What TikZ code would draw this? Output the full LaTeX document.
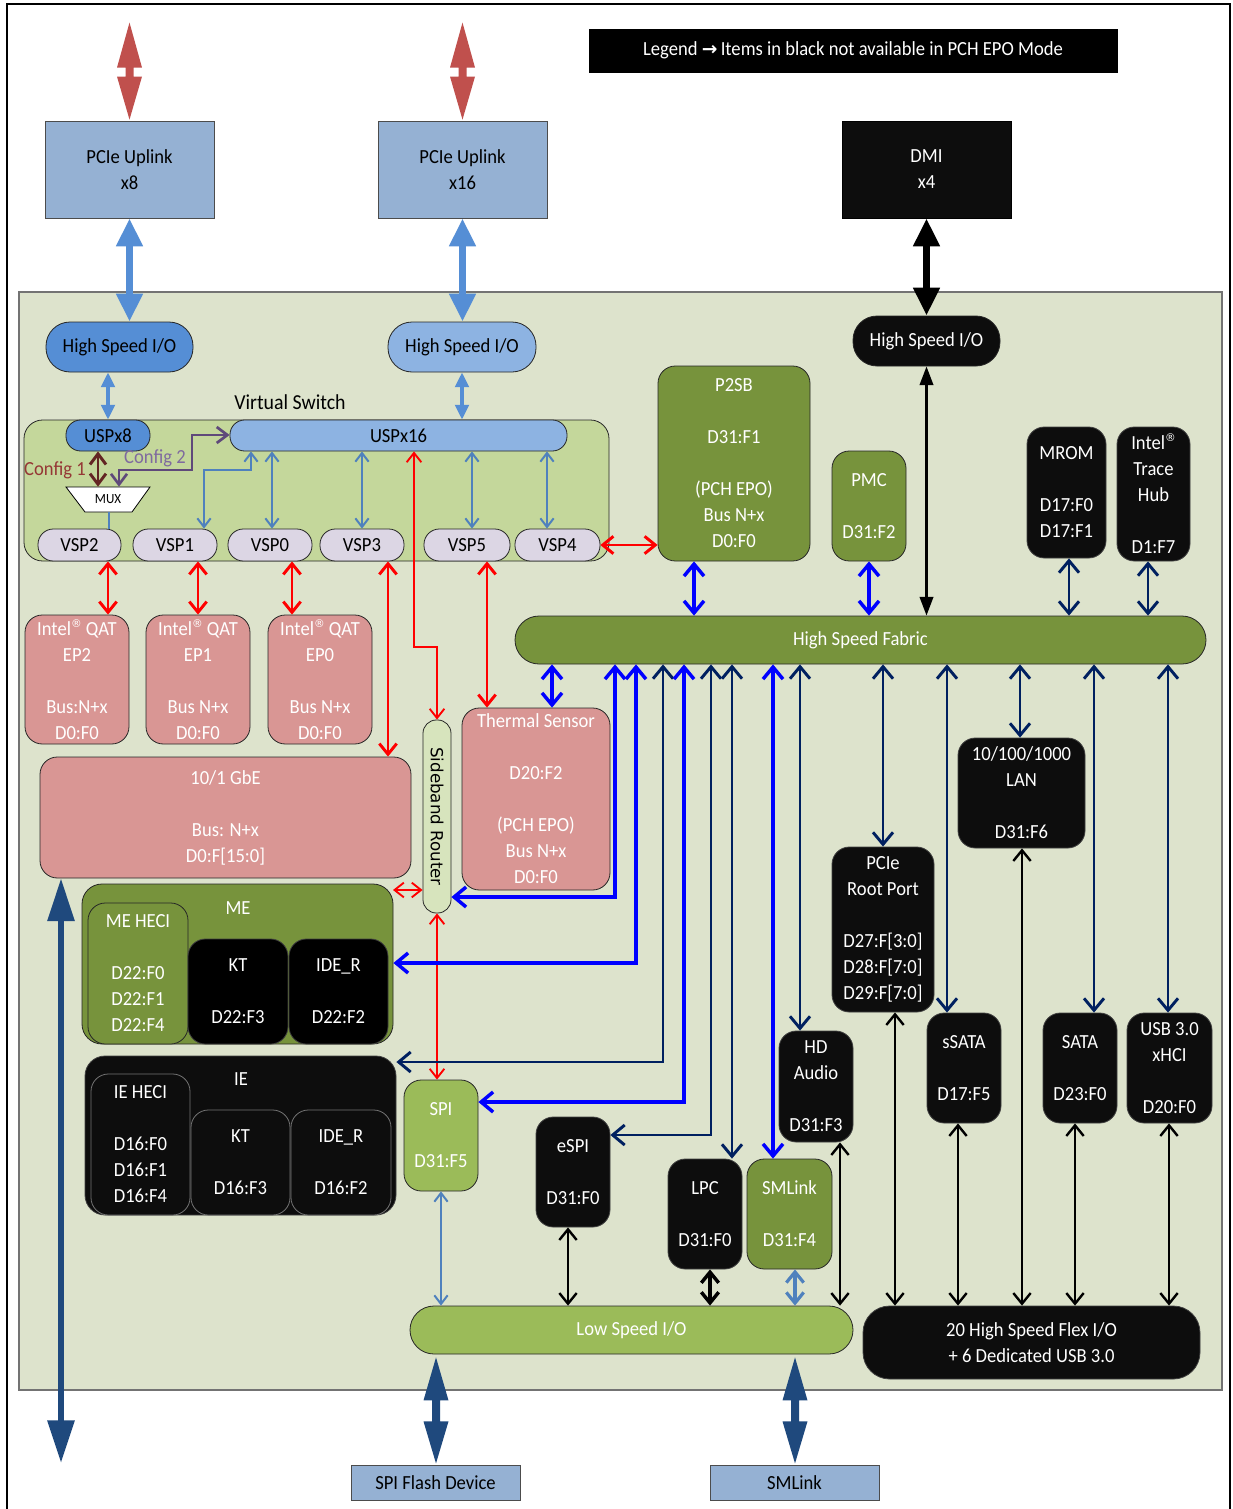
\documentclass[tikz,border=0pt]{standalone}
\usepackage{fontspec}
\setmainfont{Carlito}[FakeStretch=0.93]
\newfontfamily\djv{DejaVu Sans}
\usetikzlibrary{arrows.meta}
\definecolor{panelbg}{HTML}{DDE3CC}
\definecolor{vsg}{HTML}{C4D79B}
\definecolor{uplf}{HTML}{95B1D3}
\definecolor{hsA}{HTML}{558ED5}
\definecolor{hsB}{HTML}{8DB3E2}
\definecolor{vspf}{HTML}{DCD6E4}
\definecolor{pinkf}{HTML}{D99694}
\definecolor{olivef}{HTML}{77933C}
\definecolor{lgreenf}{HTML}{9BBB59}
\definecolor{srf}{HTML}{D7E4BD}
\definecolor{blkf}{HTML}{0D0D0D}
\definecolor{navyC}{HTML}{002060}
\definecolor{blueC}{HTML}{0000FF}
\definecolor{stlC}{HTML}{4F81BD}
\definecolor{redC}{HTML}{FF0000}
\definecolor{redbig}{HTML}{C0504D}
\definecolor{dbC}{HTML}{1F497D}
\definecolor{brnC}{HTML}{632523}
\definecolor{brnT}{HTML}{953735}
\definecolor{purC}{HTML}{5F497A}
\definecolor{purT}{HTML}{7F6A9F}
\newcommand\fs{\fontsize{15}{19.5}\selectfont}
\newcommand\reg{\raisebox{0.8ex}{\djv\fontsize{8}{8}\selectfont ®}}
\newcommand\bx[7][]{\node[#1,minimum width={(#4-#2)*0.75pt},minimum height={(#5-#3)*0.75pt}] (#6) at ({(#2+#4)/2},{(#3+#5)/2}) {#7};}
\begin{document}
\begin{tikzpicture}[x=0.75pt,y=-0.75pt,
 bx/.style={draw=black!85,line width=0.6pt,inner sep=0pt,align=center,font=\fs,text=white},
 rb/.style={bx,rounded corners=13pt},
 blk/.style={rb,fill=blkf,draw=black!75},
 pnk/.style={rb,fill=pinkf},
 olv/.style={rb,fill=olivef},
 lgr/.style={rb,fill=lgreenf},
 sq/.style={bx,fill=uplf,text=black,draw=black!70},
 vspst/.style={bx,fill=vspf,text=black,rounded corners=11.5pt},
 cblue/.style={draw=blueC,line width=2.6pt,>={Straight Barb[width=15pt,length=9pt]},<->},
 cnavy/.style={draw=navyC,line width=2.2pt,>={Straight Barb[width=15pt,length=9pt]},<->},
 cred/.style={draw=redC,line width=2.2pt,>={Straight Barb[width=13pt,length=8pt]},<->},
 credt/.style={draw=redC,line width=1.4pt,>={Straight Barb[width=11pt,length=7pt]},<->},
 cstl/.style={draw=stlC,line width=1.5pt,>={Straight Barb[width=10pt,length=6.5pt]},<->},
 cstlk/.style={draw=stlC,line width=2.4pt,>={Straight Barb[width=13pt,length=8pt]},<->},
 cblk/.style={draw=black,line width=1.8pt,>={Straight Barb[width=13pt,length=8pt]},<->},
 cblkk/.style={draw=black,line width=2.6pt,>={Straight Barb[width=13pt,length=8pt]},<->},
 cbrn/.style={draw=brnC,line width=2.2pt,>={Straight Barb[width=12pt,length=8pt]},<->},
 cpur/.style={draw=purC,line width=2pt,>={Straight Barb[width=12pt,length=8pt]},<->},
 fatblue/.style={draw=hsA,line width=5pt,>={Triangle[width=19pt,length=21pt]},<->},
 fatblk/.style={draw=black,line width=5pt,>={Triangle[width=19pt,length=21pt]},<->},
 hsusp/.style={draw=hsA,line width=3pt,>={Triangle[width=10pt,length=11pt]},<->},
 hsfab/.style={draw=black,line width=2pt,>={Triangle[width=10pt,length=14pt]},<->},
 bigdb/.style={draw=dbC,line width=4.5pt,>={Triangle[width=19.5pt,length=32pt]},<->},
]
\useasboundingbox (0,0) rectangle (1232,1509);
\fill[white] (0,0) rectangle (1232,1509);
\draw[line width=2pt] (7,1515) -- (7,4) -- (1230,4) -- (1230,1515);
\draw[draw=black!55,fill=panelbg,line width=1pt] (19,292) rectangle (1222,1390);

% top boxes
\bx[sq]{45}{121}{214}{218}{up8}{PCIe Uplink\\x8}
\bx[sq]{378}{121}{547}{218}{up16}{PCIe Uplink\\x16}
\bx[bx,fill=blkf,draw=black]{842}{121}{1011}{218}{dmi}{DMI\\x4}
\bx[bx,fill=black,draw=black]{589}{29}{1117}{72}{legend}{Legend {\djv\bfseries\fontsize{14}{16}\selectfont →}\,Items in black not available in PCH EPO Mode}

% red external arrows
\fill[redbig] (up8.north) +(0,-1) -- +(12.5,-44) -- +(4,-44) -- +(4,-53) -- +(12.5,-53) -- +(0,-98) -- +(-12.5,-53) -- +(-4,-53) -- +(-4,-44) -- +(-12.5,-44) -- cycle;
\fill[redbig] (up16.north) +(0,-1) -- +(12.5,-44) -- +(4,-44) -- +(4,-53) -- +(12.5,-53) -- +(0,-98) -- +(-12.5,-53) -- +(-4,-53) -- +(-4,-44) -- +(-12.5,-44) -- cycle;

% high speed I/O
\bx[bx,fill=hsA,text=black,rounded corners=18pt]{46}{322}{193}{372}{hs1}{High Speed I/O}
\bx[bx,fill=hsB,text=black,rounded corners=18pt]{388}{322}{536}{372}{hs2}{High Speed I/O}
\bx[bx,fill=blkf,rounded corners=18pt]{853}{316}{1000}{366}{hs3}{High Speed I/O}

% virtual switch
\node[font=\fontsize{16}{19}\selectfont] (vslbl) at (290,402) {Virtual Switch};
\bx[bx,fill=vsg,rounded corners=14pt]{24}{420}{609}{561}{vs}{}
\bx[bx,fill=hsA,text=black,rounded corners=11pt]{66}{420}{150}{451}{uspa}{USPx8}
\bx[bx,fill=hsB,text=black,rounded corners=11pt]{230}{420}{567}{451}{uspb}{USPx16}
\bx[vspst]{38}{529}{121}{561}{vsp2}{VSP2}
\bx[vspst]{133}{529}{217}{561}{vsp1}{VSP1}
\bx[vspst]{228}{529}{312}{561}{vsp0}{VSP0}
\bx[vspst]{320}{529}{404}{561}{vsp3}{VSP3}
\bx[vspst]{424}{529}{510}{561}{vsp5}{VSP5}
\bx[vspst]{515}{529}{600}{561}{vsp4}{VSP4}
\filldraw[fill=white,draw=black,line width=0.6pt] (66,487) -- (150,487) -- (132,512) -- (85,512) -- cycle;
\node[inner sep=0pt,minimum width=63pt,minimum height=18.75pt,font=\fontsize{10.5}{12}\selectfont] (mux) at (108,499.5) {MUX};

% right top blocks
\bx[olv]{658}{366}{810}{561}{p2sb}{P2SB\\[19.5pt]D31:F1\\[19.5pt](PCH EPO)\\Bus N+x\\D0:F0}
\bx[olv]{832}{451}{906}{561}{pmc}{PMC\\[19.5pt]D31:F2}
\bx[blk]{1027}{427}{1106}{558}{mrom}{MROM\\[19.5pt]D17:F0\\D17:F1}
\bx[blk]{1117}{427}{1190}{561}{ith}{Intel\reg\\Trace\\Hub\\[19.5pt]D1:F7}
\bx[bx,fill=olivef,rounded corners=18pt]{515}{616}{1206}{664}{fab}{High Speed Fabric}

% pink blocks
\bx[pnk]{25}{615}{129}{744}{qat2}{Intel\reg{} QAT\\EP2\\[19.5pt]Bus:N+x\\D0:F0}
\bx[pnk]{146}{615}{250}{744}{qat1}{Intel\reg{} QAT\\EP1\\[19.5pt]Bus N+x\\D0:F0}
\bx[pnk]{268}{615}{372}{744}{qat0}{Intel\reg{} QAT\\EP0\\[19.5pt]Bus N+x\\D0:F0}
\bx[pnk]{40}{757}{411}{878}{gbe}{10/1 GbE\\[19.5pt]Bus: N+x\\D0:F[15:0]}
\bx[pnk]{462}{708}{610}{890}{ts}{Thermal Sensor\\[19.5pt]D20:F2\\[19.5pt](PCH EPO)\\Bus N+x\\D0:F0}
\bx[bx,fill=srf,rounded corners=10pt,label={[rotate=-90,font=\djv\fontsize{12.5}{14}\selectfont,text=black]center:Sideband Router}]{423}{720}{451}{913}{sr}{}

% ME / IE
\bx[olv,rounded corners=15pt]{82}{884}{393}{1044}{me}{}
\bx[olv]{88}{903}{188}{1044}{mehe}{ME HECI\\[19.5pt]D22:F0\\D22:F1\\D22:F4}
\bx[blk,fill=black]{188}{939}{288}{1044}{mekt}{KT\\[19.5pt]D22:F3}
\bx[blk,fill=black]{289}{939}{388}{1044}{meid}{IDE\_R\\[19.5pt]D22:F2}
\node[font=\fs,text=white] (melbl) at (238,908) {ME};
\bx[blk,rounded corners=15pt]{85}{1056}{396}{1215}{ie}{}
\bx[blk,draw=black!55]{91}{1074}{190}{1215}{iehe}{IE HECI\\[19.5pt]D16:F0\\D16:F1\\D16:F4}
\bx[blk,draw=black!55]{191}{1110}{290}{1215}{iekt}{KT\\[19.5pt]D16:F3}
\bx[blk,draw=black!55]{291}{1110}{391}{1215}{ieid}{IDE\_R\\[19.5pt]D16:F2}
\node[font=\fs,text=white] (ielbl) at (241,1079) {IE};

% lower blocks
\bx[lgr]{404}{1080}{478}{1191}{spi}{SPI\\[19.5pt]D31:F5}
\bx[blk]{536}{1117}{610}{1227}{espi}{eSPI\\[19.5pt]D31:F0}
\bx[blk]{668}{1159}{742}{1269}{lpc}{LPC\\[19.5pt]D31:F0}
\bx[olv]{747}{1159}{832}{1269}{sml}{SMLink\\[19.5pt]D31:F4}
\bx[blk]{779}{1031}{853}{1142}{hda}{HD\\Audio\\[19.5pt]D31:F3}
\bx[blk]{832}{847}{934}{1012}{rp}{PCIe\\Root Port\\[19.5pt]D27:F[3:0]\\D28:F[7:0]\\D29:F[7:0]}
\bx[blk]{958}{738}{1085}{848}{lan}{10/100/1000\\LAN\\[19.5pt]D31:F6}
\bx[blk]{927}{1013}{1001}{1123}{ssata}{sSATA\\[19.5pt]D17:F5}
\bx[blk]{1043}{1013}{1117}{1123}{sata}{SATA\\[19.5pt]D23:F0}
\bx[blk]{1127}{1013}{1212}{1123}{usb}{USB 3.0\\xHCI\\[19.5pt]D20:F0}
\bx[bx,fill=lgreenf,rounded corners=18pt]{410}{1306}{853}{1354}{ls}{Low Speed I/O}
\bx[blk,rounded corners=20pt]{863}{1306}{1200}{1379}{flex}{20 High Speed Flex I/O\\+ 6 Dedicated USB 3.0}
\bx[sq]{351}{1465}{520}{1500}{spif}{SPI Flash Device}
\bx[sq]{710}{1465}{879}{1500}{smb}{SMLink}

% uplink connectors
\draw[fatblue] (129.5,0 |- up8.south) -- (129.5,0 |- hs1.north);
\draw[fatblue] (up16.south) -- (up16.south |- hs2.north);
\draw[fatblk] (dmi.south) -- (dmi.south |- hs3.north);
\draw[hsusp] (108,0 |- hs1.south) -- (uspa.north);
\draw[hsusp] (462,0 |- hs2.south) -- (462,0 |- uspb.north);

% virtual switch internals
\draw[cbrn] (98,0 |- uspa.south) -- (98,0 |- mux.north);
\draw[cpur] (119,0 |- mux.north) -- (119,470) -- (192,470) -- (192,435) -- (uspb.west |- 0,435);
\draw[draw=stlC,line width=1.5pt] (109,0 |- mux.south) -- (109,0 |- vsp2.north);
\draw[cstl] (204,0 |- vsp1.north) -- (204,470) -- (251,470) -- (251,0 |- uspb.south);
\draw[cstl] (272,0 |- vsp0.north) -- (272,0 |- uspb.south);
\draw[cstl] (362,0 |- vsp3.north) -- (362,0 |- uspb.south);
\draw[cstl] (472,0 |- vsp5.north) -- (472,0 |- uspb.south);
\draw[cstl] (547,0 |- vsp4.north) -- (547,0 |- uspb.south);
\node[text=brnT,font=\fs] (c1) at (55,470) {Config 1};
\node[text=purT,font=\fs] (c2) at (155,458) {Config 2};

% red connectors
\draw[cred] (108,0 |- vsp2.south) -- (108,0 |- qat2.north);
\draw[cred] (198,0 |- vsp1.south) -- (198,0 |- qat1.north);
\draw[cred] (292,0 |- vsp0.south) -- (292,0 |- qat0.north);
\draw[cred] (388,0 |- vsp3.south) -- (388,0 |- gbe.north);
\draw[cred] (487,0 |- vsp5.south) -- (487,0 |- ts.north);
\draw[cred] (vsp4.east) -- (vsp4.east -| p2sb.west);
\draw[credt] (414,0 |- uspb.south) -- (414,647) -- (sr.north |- 0,647) -- (sr.north);
\coordinate (gl) at (393,890);
\draw[credt] (gl) -- (gl -| sr.west);
\draw[credt] (sr.south) -- (sr.south |- spi.north);

% fabric top
\draw[cblue] (694,0 |- p2sb.south) -- (694,0 |- fab.north);
\draw[cblue] (pmc.south) -- (pmc.south |- fab.north);
\draw[hsfab] (hs3.south) -- (hs3.south |- fab.north);
\draw[cnavy] (1069,0 |- mrom.south) -- (1069,0 |- fab.north);
\draw[cnavy] (1148,0 |- ith.south) -- (1148,0 |- fab.north);

% fabric bottom
\draw[cblue] (552,0 |- fab.south) -- (552,0 |- ts.north);
\draw[cblue] (615,0 |- fab.south) -- (615,897) -- (sr.east |- 0,897);
\draw[cblue] (636,0 |- fab.south) -- (636,963) -- (me.east |- 0,963);
\draw[cnavy] (663,0 |- fab.south) -- (663,1062) -- (ie.east |- 0,1062);
\draw[cblue] (684,0 |- fab.south) -- (684,1102) -- (spi.east |- 0,1102);
\draw[cnavy] (711,0 |- fab.south) -- (711,1135) -- (espi.east |- 0,1135);
\draw[cnavy] (732,0 |- fab.south) -- (732,0 |- lpc.north);
\draw[cblue] (773,0 |- fab.south) -- (773,0 |- sml.north);
\draw[cnavy] (800,0 |- fab.south) -- (800,0 |- hda.north);
\draw[cnavy] (883,0 |- fab.south) -- (883,0 |- rp.north);
\draw[cnavy] (947,0 |- fab.south) -- (947,0 |- ssata.north);
\draw[cnavy] (1020,0 |- fab.south) -- (1020,0 |- lan.north);
\draw[cnavy] (1094,0 |- fab.south) -- (1094,0 |- sata.north);
\draw[cnavy] (1168,0 |- fab.south) -- (1168,0 |- usb.north);

% to flex
\draw[cblk] (895,0 |- rp.south) -- (895,0 |- flex.north);
\draw[cblk] (958,0 |- ssata.south) -- (958,0 |- flex.north);
\draw[cblk] (1022,0 |- lan.south) -- (1022,0 |- flex.north);
\draw[cblk] (1075,0 |- sata.south) -- (1075,0 |- flex.north);
\draw[cblk] (1169,0 |- usb.south) -- (1169,0 |- flex.north);
\draw[cblk] (840,0 |- hda.south) -- (840,0 |- ls.north);

% to low speed
\draw[cstl] (441,0 |- spi.south) -- (441,0 |- ls.north);
\draw[cblk] (568,0 |- espi.south) -- (568,0 |- ls.north);
\draw[cblkk] (710,0 |- lpc.south) -- (710,0 |- ls.north);
\draw[cstlk] (795,0 |- sml.south) -- (795,0 |- ls.north);

% bottom external arrows
\fill[dbC] (436,0 |- ls.south) +(0,3) -- +(12.5,46) -- +(4,46) -- +(4,67) -- +(12.5,67) -- +(0,109) -- +(-12.5,67) -- +(-4,67) -- +(-4,46) -- +(-12.5,46) -- cycle;
\fill[dbC] (795,0 |- ls.south) +(0,3) -- +(12.5,46) -- +(4,46) -- +(4,67) -- +(12.5,67) -- +(0,109) -- +(-12.5,67) -- +(-4,67) -- +(-4,46) -- +(-12.5,46) -- cycle;

% left big arrow
\coordinate (lend) at (61,1463);
\draw[bigdb] (61,0 |- gbe.south) -- (lend);
\end{tikzpicture}
\end{document}
